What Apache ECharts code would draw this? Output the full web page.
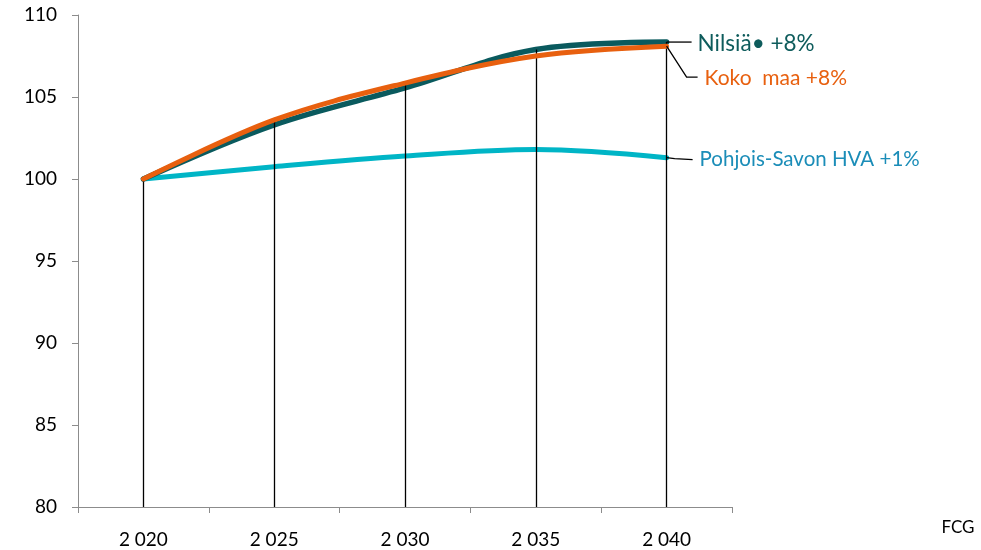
<!DOCTYPE html>
<html><head><meta charset="utf-8">
<script src="https://cdn.jsdelivr.net/npm/echarts@6/dist/echarts.min.js"></script>
<style>html,body{margin:0;padding:0;background:#fff}#c{width:981px;height:550px}</style>
</head><body><div id="c"></div>
<script>
const categories = ['2 020', '2 025', '2 030', '2 035', '2 040'];
const nilsia = [100, 103.3, 105.55, 107.9, 108.35];
const kokoMaa = [100, 103.6, 105.85, 107.5, 108.1];
const pohjoisSavo = [100, 100.75, 101.4, 101.8, 101.3];
const seriesNames = ['Nilsiä', 'Koko maa', 'Pohjois-Savon HVA'];
const endLabels = ['Nilsiä• +8%', 'Koko  maa +8%', 'Pohjois-Savon HVA +1%'];
const yTicks = [80, 85, 90, 95, 100, 105, 110];

const FONT = 'Lato, "Open Sans", sans-serif';
const dropTop = categories.map((c, i) => Math.max(nilsia[i], kokoMaa[i], pohjoisSavo[i]));

const chart = echarts.init(document.getElementById('c'));
chart.setOption({
  animation: false,
  textStyle: { fontFamily: FONT },
  grid: { left: 78, right: 249, top: 15, bottom: 43 },
  xAxis: {
    type: 'category', data: categories, boundaryGap: true,
    axisLine: { lineStyle: { color: '#8c8c8c', width: 1 } },
    axisTick: { show: true, length: 6, lineStyle: { color: '#8c8c8c' } },
    axisLabel: { color: '#000', fontSize: 19, margin: 23, fontFamily: FONT }
  },
  yAxis: {
    type: 'value', min: yTicks[0], max: yTicks[yTicks.length - 1], interval: 5,
    axisLine: { show: true, lineStyle: { color: '#8c8c8c', width: 1 } },
    axisTick: { show: true, length: 6, lineStyle: { color: '#8c8c8c' } },
    axisLabel: { color: '#000', fontSize: 19, margin: 21, fontFamily: FONT },
    splitLine: { show: false }
  },
  series: [
    {
      name: 'drop', type: 'line', data: dropTop, symbol: 'none',
      lineStyle: { opacity: 0 }, z: 1, silent: true,
      markLine: {
        symbol: 'none', silent: true, label: { show: false },
        lineStyle: { color: '#000', width: 1.3, type: 'solid' },
        data: dropTop.map((v, i) => [{ coord: [i, v] }, { coord: [i, yTicks[0]] }])
      }
    },
    {
      name: seriesNames[2], type: 'line', data: pohjoisSavo, smooth: 0.35,
      symbol: 'none', z: 3, lineStyle: { color: '#00b5c6', width: 5, cap: 'round' }
    },
    {
      name: seriesNames[0], type: 'line', data: nilsia, smooth: 0.35,
      symbol: 'none', z: 4, lineStyle: { color: '#0a5a5e', width: 5.5, cap: 'round' }
    },
    {
      name: seriesNames[1], type: 'line', data: kokoMaa, smooth: 0.35,
      symbol: 'none', z: 5, lineStyle: { color: '#e8600f', width: 5, cap: 'round' }
    }
  ]
});

const last = categories.length - 1;
const pN = chart.convertToPixel({ gridIndex: 0 }, [last, nilsia[last]]);
const pK = chart.convertToPixel({ gridIndex: 0 }, [last, kokoMaa[last]]);
const pP = chart.convertToPixel({ gridIndex: 0 }, [last, pohjoisSavo[last]]);
const lineStyle = { stroke: '#000', lineWidth: 1.3, fill: null };
chart.setOption({
  graphic: [
    { type: 'polyline', z: 10, shape: { points: [[pN[0], pN[1]], [pN[0] + 25, pN[1]]] }, style: lineStyle },
    { type: 'polyline', z: 10, shape: { points: [[pK[0], pK[1]], [pK[0] + 20, pK[1] + 31], [pK[0] + 31, pK[1] + 31]] }, style: lineStyle },
    { type: 'polyline', z: 10, shape: { points: [[pP[0], pP[1]], [pP[0] + 8, pP[1] + 1], [pP[0] + 26, pP[1] + 2]] }, style: lineStyle },
    { type: 'text', z: 10, style: { x: pN[0] + 31, y: pN[1] + 2, text: endLabels[0], fill: '#0e5c5c', font: '22.5px ' + FONT, verticalAlign: 'middle' } },
    { type: 'text', z: 10, style: { x: pK[0] + 38, y: pK[1] + 32, text: endLabels[1], fill: '#e8600f', font: '21px ' + FONT, verticalAlign: 'middle' } },
    { type: 'text', z: 10, style: { x: pP[0] + 33, y: pP[1] + 2, text: endLabels[2], fill: '#1b8db8', font: '20.5px ' + FONT, verticalAlign: 'middle' } },
    { type: 'text', z: 10, style: { x: 958, y: 528, text: 'FCG', fill: '#000', font: '17px ' + FONT, align: 'center', verticalAlign: 'middle' } }
  ]
});
</script>
</body></html>
